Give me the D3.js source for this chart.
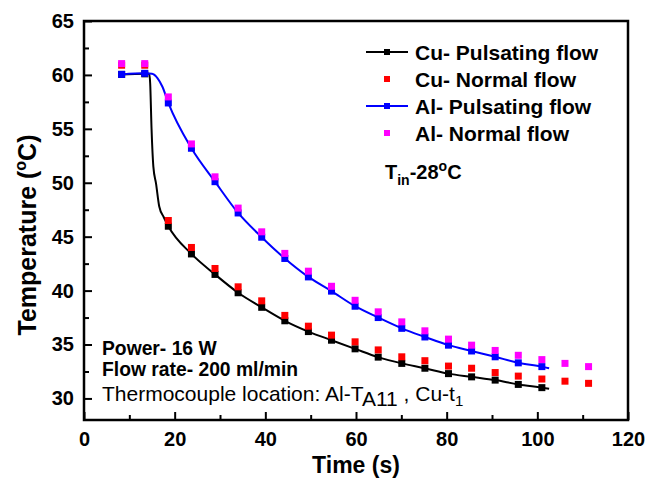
<!DOCTYPE html>
<html>
<head>
<meta charset="utf-8">
<script src="https://d3js.org/d3.v7.min.js"></script>
<style>
  body { margin: 0; background: #fff; }
  text { font-family: "Liberation Sans", Arial, sans-serif; }
</style>
</head>
<body>
<div id="graph"></div>
<script>

// sampling times of the plotted markers (s)
var markerTime = [8.3, 13.4, 18.6, 23.7, 28.9, 34.0, 39.2, 44.3, 49.5, 54.6, 59.8,
                  64.9, 70.1, 75.2, 80.4, 85.5, 90.7, 95.8, 101.0, 106.1, 111.3];

// temperatures (°C)
var cuPulsating = [60.05, 60.1, 45.97, 43.4, 41.5, 39.8, 38.45, 37.2, 36.2, 35.4, 34.6,
                   33.83, 33.25, 32.8, 32.3, 32.0, 31.7, 31.3, 31.0];
var cuNormal    = [60.9, 60.9, 46.5, 44.0, 42.05, 40.35, 39.05, 37.7, 36.7, 35.87, 35.25,
                   34.5, 33.86, 33.5, 33.0, 32.8, 32.4, 32.07, 31.8, 31.6, 31.4];
var alPulsating = [60.05, 60.15, 57.4, 53.2, 50.1, 47.2, 44.95, 42.98, 41.27, 39.95, 38.55,
                   37.5, 36.5, 35.7, 34.94, 34.4, 33.86, 33.3, 32.95];
var alNormal    = [61.05, 61.05, 57.96, 53.6, 50.55, 47.65, 45.45, 43.45, 41.8, 40.4, 39.1,
                   38.03, 37.1, 36.27, 35.5, 34.94, 34.45, 34.0, 33.6, 33.25, 32.95];

// extra recorded points of the continuous pulsating-flow traces (between markers)
var cuExtraTime = [14.4, 14.6, 14.9, 15.3, 15.9, 16.6, 17.6, 102.6];
var cuExtraTemp = [60.1, 59.2, 55.0, 51.5, 49.9, 47.8, 46.8, 30.9];
var alExtraTime = [15.0, 16.2, 17.3, 102.6];
var alExtraTemp = [60.1, 59.7, 58.9, 32.8];

var xTicks = [0, 20, 40, 60, 80, 100, 120];
var xMinor = [10, 30, 50, 70, 90, 110];
var yTicks = [30, 35, 40, 45, 50, 55, 60, 65];
var yMinor = [32.5, 37.5, 42.5, 47.5, 52.5, 57.5, 62.5];

var legendNames = ["Cu- Pulsating flow", "Cu- Normal flow", "Al- Pulsating flow", "Al- Normal flow"];
var legendColors = ["#000000", "#ff0000", "#0000ff", "#ff00ff"];
var legendLine = [true, false, true, false];

// set the dimensions and margins of the graph
var margin = {top: 21, right: 33, bottom: 58, left: 84},
    width = 661 - margin.left - margin.right,
    height = 478 - margin.top - margin.bottom;

var svg = d3.select("#graph")
  .append("svg")
    .attr("width", 661)
    .attr("height", 478)
  .append("g")
    .attr("transform", "translate(" + margin.left + "," + margin.top + ")");

var x = d3.scaleLinear().domain([0, 120]).range([0, width]);
var y = d3.scaleLinear().domain([28, 65]).range([height, 0]);

// axes, ticks pointing inside
svg.append("g")
  .attr("transform", "translate(0," + height + ")")
  .call(d3.axisBottom(x).tickValues(xTicks).tickSizeInner(-8).tickSizeOuter(0).tickPadding(12));
svg.append("g")
  .attr("transform", "translate(0," + height + ")")
  .call(d3.axisBottom(x).tickValues(xMinor).tickSizeInner(-5).tickSizeOuter(0).tickFormat(""));
svg.append("g")
  .call(d3.axisLeft(y).tickValues(yTicks).tickSizeInner(-8).tickSizeOuter(0).tickPadding(10));
svg.append("g")
  .call(d3.axisLeft(y).tickValues(yMinor).tickSizeInner(-5).tickSizeOuter(0).tickFormat(""));

svg.selectAll(".tick line").attr("stroke", "#000").attr("stroke-width", 2);
svg.selectAll(".domain").remove();
svg.selectAll(".tick text")
  .attr("font-size", "20px")
  .attr("font-weight", "bold")
  .attr("fill", "#000");

// frame
svg.append("rect")
  .attr("width", width).attr("height", height)
  .attr("fill", "none").attr("stroke", "#000").attr("stroke-width", 2.5);

// build series
function pts(t, v) { return v.map(function(d, i) { return {t: t[i], v: d}; }); }
var cuMarks = pts(markerTime, cuPulsating);
var alMarks = pts(markerTime, alPulsating);
var cuLine = cuMarks.concat(pts(cuExtraTime, cuExtraTemp)).sort(function(a, b) { return a.t - b.t; });
var alLine = alMarks.concat(pts(alExtraTime, alExtraTemp)).sort(function(a, b) { return a.t - b.t; });

var line = d3.line()
  .x(function(d) { return x(d.t); })
  .y(function(d) { return y(d.v); })
  .curve(d3.curveMonotoneX);

function squares(data, color, size) {
  svg.append("g").selectAll("rect")
    .data(data).enter().append("rect")
      .attr("x", function(d) { return x(d.t) - size / 2; })
      .attr("y", function(d) { return y(d.v) - size / 2; })
      .attr("width", size).attr("height", size)
      .attr("fill", color);
}

svg.append("path").datum(cuLine)
  .attr("fill", "none").attr("stroke", "#000").attr("stroke-width", 2).attr("d", line);
squares(cuMarks, "#000000", 7);
svg.append("path").datum(alLine)
  .attr("fill", "none").attr("stroke", "#0000ff").attr("stroke-width", 2).attr("d", line);
squares(alMarks, "#0000ff", 7);
squares(pts(markerTime, cuNormal), "#ff0000", 7);
squares(pts(markerTime, alNormal), "#ff00ff", 7);

// legend
var legend = svg.selectAll(".lineLegend").data(legendNames)
  .enter().append("g")
    .attr("transform", function(d, i) { return "translate(" + (282) + "," + (31 + i * 27) + ")"; });
legend.filter(function(d, i) { return legendLine[i]; })
  .append("line")
    .attr("x1", 0).attr("x2", 42).attr("y1", 0).attr("y2", 0)
    .attr("stroke", function(d) { return legendColors[legendNames.indexOf(d)]; })
    .attr("stroke-width", 2);
legend.append("rect")
  .attr("x", 18).attr("y", -3).attr("width", 6).attr("height", 6)
  .attr("fill", function(d) { return legendColors[legendNames.indexOf(d)]; });
legend.append("text")
  .attr("x", 49).attr("dy", "0.36em")
  .attr("font-size", "21px").attr("font-weight", "bold")
  .text(function(d) { return d; });

// inlet temperature
var tin = svg.append("text")
  .attr("x", 301).attr("y", 158)
  .attr("font-size", "20px").attr("font-weight", "bold");
tin.append("tspan").text("T");
tin.append("tspan").attr("font-size", "14px").attr("dy", 6).text("in");
tin.append("tspan").attr("dy", -6).text("-28");
tin.append("tspan").attr("font-size", "14px").attr("dy", -8).text("o");
tin.append("tspan").attr("dy", 8).text("C");

// test conditions
svg.append("text")
  .attr("x", 18).attr("y", 334)
  .attr("font-size", "19.3px").attr("font-weight", "bold")
  .text("Power- 16 W");
svg.append("text")
  .attr("x", 18).attr("y", 355)
  .attr("font-size", "19.3px").attr("font-weight", "bold")
  .text("Flow rate- 200 ml/min");
var tc = svg.append("text")
  .attr("x", 18).attr("y", 380)
  .attr("font-size", "21px");
tc.append("tspan").text("Thermocouple location: Al-T");
tc.append("tspan").attr("dy", 5).text("A11");
tc.append("tspan").attr("dy", -5).text(" , Cu-t");
tc.append("tspan").attr("font-size", "15px").attr("dy", 5).text("1");

// axis titles
svg.append("text")
  .attr("x", width / 2).attr("y", height + 53)
  .attr("text-anchor", "middle")
  .attr("font-size", "23px").attr("font-weight", "bold")
  .text("Time (s)");

var yt = svg.append("text")
  .attr("transform", "translate(" + (-48) + "," + (214) + ") rotate(-90)")
  .attr("text-anchor", "middle")
  .attr("font-size", "25px").attr("font-weight", "bold");
yt.append("tspan").text("Temperature (");
yt.append("tspan").attr("font-size", "16px").attr("dy", -10).text("o");
yt.append("tspan").attr("dy", 10).text("C)");

</script>
</body>
</html>
